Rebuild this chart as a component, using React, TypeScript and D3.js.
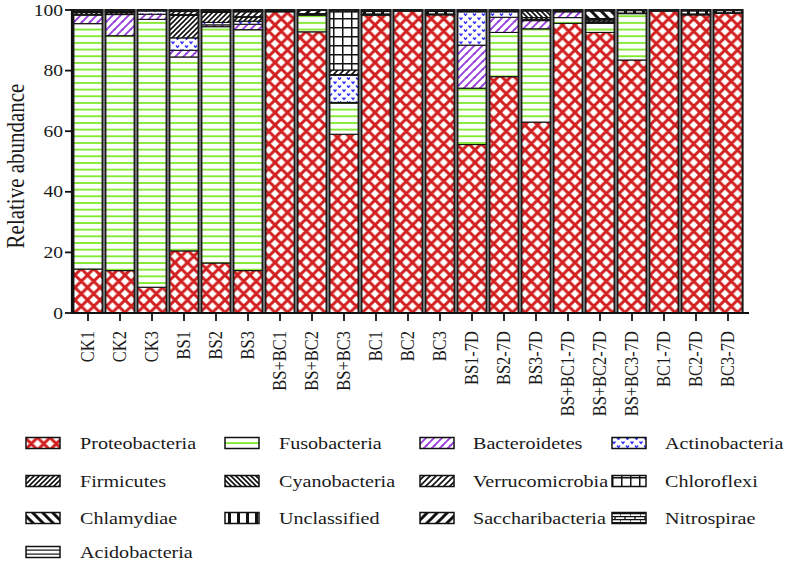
import React from 'react';
import * as d3 from 'd3';

const samples = ['CK1','CK2','CK3','BS1','BS2','BS3','BS+BC1','BS+BC2','BS+BC3','BC1','BC2','BC3','BS1-7D','BS2-7D','BS3-7D','BS+BC1-7D','BS+BC2-7D','BS+BC3-7D','BC1-7D','BC2-7D','BC3-7D'];

const phyla = ['Proteobacteria','Fusobacteria','Bacteroidetes','Actinobacteria','Firmicutes','Cyanobacteria','Verrucomicrobia','Chloroflexi','Chlamydiae','Unclassified','Saccharibacteria','Nitrospirae','Acidobacteria'];

const proteobacteria = [14.5,14.0,8.5,20.5,16.5,14.0,99.4,92.8,59.0,98.3,99.6,98.4,55.6,78.0,63.0,95.6,92.6,83.5,99.6,98.4,98.9];
const fusobacteria = [81.0,77.5,88.4,64.0,78.0,79.5,0.2,5.5,10.3,0.2,0.2,0.2,18.6,14.6,30.8,1.9,3.0,15.3,0.2,0.2,0.2];
const bacteroidetes = [2.8,7.0,1.7,2.2,0.6,1.8,0.05,0.2,0.2,0,0,0,14.2,5.0,2.7,1.9,0.3,0.1,0,0,0];
const actinobacteria = [0.3,0.2,1.1,4.1,0.8,1.0,0.05,0.1,9.0,0,0,0,11.0,1.8,0.4,0.2,0.2,0,0,0,0];
const firmicutes = [0.6,0.5,0.1,7.4,3.3,1.3,0.1,0.1,0.2,0.2,0,0.1,0.2,0.2,0.6,0.2,0.6,0.1,0,0.1,0];
const cyanobacteria = [0.2,0.2,0.05,0.3,0.2,0.2,0,0,0,0,0,0,0.1,0.1,2.2,0,0.3,0,0,0,0];
const verrucomicrobia = [0.1,0.1,0.05,1.0,0.2,1.6,0,0,1.5,0,0,0,0.1,0.1,0.1,0,0.2,0,0,0,0];
const chloroflexi = [0.1,0.1,0,0.1,0.1,0.1,0,0,19.2,0,0,0,0,0,0,0,0,0,0,0,0];
const chlamydiae = [0.1,0.1,0,0.1,0.1,0,0,0,0,0,0,0,0,0,0,0,2.5,0,0,0,0];
const unclassified = [0.2,0.2,0.1,0.2,0.1,0.3,0.2,0.1,0.4,0.8,0.2,0.8,0.2,0.2,0.2,0.2,0.3,0.8,0.2,1.0,0.7];
const saccharibacteria = [0.05,0.05,0,0.05,0.1,0.1,0,1.2,0.1,0,0,0,0,0,0,0,0,0,0,0,0];
const nitrospirae = [0.05,0.05,0,0.05,0,0.1,0,0,0.1,0.3,0,0.3,0,0,0,0,0,0.2,0,0.2,0.2];
const acidobacteria = [0,0,0,0,0,0,0,0,0,0.2,0,0.2,0,0,0,0,0,0,0,0.1,0];

const seriesValues = [proteobacteria,fusobacteria,bacteroidetes,actinobacteria,firmicutes,cyanobacteria,verrucomicrobia,chloroflexi,chlamydiae,unclassified,saccharibacteria,nitrospirae,acidobacteria];

const yTicks = [0,20,40,60,80,100];

const FONT = 'Liberation Serif, Times New Roman, serif';
const SX = 1.15;
const tstyle = { fontFamily: FONT };

function Patterns() {
  const red = '#d21f1f';
  const P = 12.5;
  const h = P / 2;
  return (
    <defs>
      <pattern id="pat0" width={P} height={P} patternUnits="userSpaceOnUse">
        <rect width={P} height={P} fill="#fff" />
        <path d={`M${-h},${-h}L${P+h},${P+h}M${-h},${h}L${h},${P+h}M${h},${-h}L${P+h},${h}M${P+h},${-h}L${-h},${P+h}M${h},${-h}L${-h},${h}M${P+h},${h}L${h},${P+h}`} stroke={red} strokeWidth={2.9} />
      </pattern>
      <pattern id="pat1" width={8} height={6.67} patternUnits="userSpaceOnUse">
        <rect width={8} height={6.67} fill="#fff" />
        <rect y={2} width={8} height={1.8} fill="#7ee82a" />
      </pattern>
      <pattern id="pat2" width={8} height={8} patternUnits="userSpaceOnUse">
        <rect width={8} height={8} fill="#fff" />
        <path d="M-2,10L10,-2M-2,2L2,-2M6,10L10,6" stroke="#9a3ede" strokeWidth={1.8} />
        <path d="M1,5.5L4,5.5" stroke="#9a3ede" strokeWidth={1.2} />
      </pattern>
      <pattern id="pat3" width={9} height={8} patternUnits="userSpaceOnUse">
        <rect width={9} height={8} fill="#fff" />
        <path d="M0.5,1.5L2,3.5L3.5,1.5M5,5.5L6.5,7.5L8,5.5" stroke="#2f2fff" strokeWidth={1.3} fill="none" />
      </pattern>
      <pattern id="pat4" width={5} height={5} patternUnits="userSpaceOnUse">
        <rect width={5} height={5} fill="#fff" />
        <path d="M-1,6L6,-1M-1,1L1,-1M4,6L6,4" stroke="#111" strokeWidth={1.6} />
      </pattern>
      <pattern id="pat5" width={5} height={5} patternUnits="userSpaceOnUse">
        <rect width={5} height={5} fill="#fff" />
        <path d="M-1,-1L6,6M4,-1L6,1M-1,4L1,6" stroke="#111" strokeWidth={1.6} />
      </pattern>
      <pattern id="pat6" width={6} height={6} patternUnits="userSpaceOnUse">
        <rect width={6} height={6} fill="#fff" />
        <path d="M-1,7L7,-1M-1,1L1,-1M5,7L7,5" stroke="#111" strokeWidth={1.6} />
      </pattern>
      <pattern id="pat7" width={9} height={9} patternUnits="userSpaceOnUse">
        <rect width={9} height={9} fill="#fff" />
        <path d="M0,0.75H9M0.75,0V9" stroke="#111" strokeWidth={1.5} />
      </pattern>
      <pattern id="pat8" width={10} height={10} patternUnits="userSpaceOnUse">
        <rect width={10} height={10} fill="#fff" />
        <path d="M-2,-2L12,12M8,-2L12,2M-2,8L2,12" stroke="#111" strokeWidth={3} />
      </pattern>
      <pattern id="pat9" width={9} height={9} patternUnits="userSpaceOnUse">
        <rect width={9} height={9} fill="#fff" />
        <rect x={3} width={3} height={9} fill="#111" />
      </pattern>
      <pattern id="pat10" width={10} height={10} patternUnits="userSpaceOnUse">
        <rect width={10} height={10} fill="#fff" />
        <path d="M-2,12L12,-2M-2,2L2,-2M8,12L12,8" stroke="#111" strokeWidth={3} />
      </pattern>
      <pattern id="pat11" width={10} height={6} patternUnits="userSpaceOnUse">
        <rect width={10} height={6} fill="#fff" />
        <path d="M0,0.6H10M0,3.6H10M5,0V3M0,3V6" stroke="#111" strokeWidth={1.3} />
      </pattern>
      <pattern id="pat12" width={8} height={4} patternUnits="userSpaceOnUse">
        <rect width={8} height={4} fill="#fff" />
        <rect y={1.5} width={8} height={1.2} fill="#111" />
      </pattern>
    </defs>
  );
}

export default function App() {
  const width = 791;
  const height = 561;
  const x0 = 72;
  const x1 = 744;
  const y = d3.scaleLinear().domain([0, 100]).range([313, 10]);
  const x = d3.scaleBand<string>().domain(samples).range([x0, x1]).paddingInner(0.09).paddingOuter(0.045);

  const rows = samples.map((s, i) => {
    const r: Record<string, number | string> = { sample: s };
    phyla.forEach((p, k) => { r[p] = seriesValues[k][i]; });
    return r;
  });
  const stack = d3.stack<any>().keys(phyla);
  const stacked = stack(rows as any);

  const legendCols = [{ sw: 26, tx: 80 }, { sw: 225, tx: 279 }, { sw: 420, tx: 473 }, { sw: 612, tx: 665 }];
  const legendRows = [443, 481, 518, 552];

  const bw = x.bandwidth();

  return (
    <svg width={width} height={height} style={{ position: 'absolute', left: 0, top: 0, background: '#fff', fontFamily: FONT }}>
      <Patterns />
      <rect width={width} height={height} fill="#fff" />
      {stacked.map((layer, k) => (
        <g key={phyla[k]}>
          {layer.map((d, i) => {
            const v = d[1] - d[0];
            if (v <= 0) return null;
            const yt = y(d[1]);
            const yb = y(d[0]);
            return (
              <rect key={i} x={x(samples[i])!} y={yt} width={bw} height={yb - yt}
                fill={`url(#pat${k})`} stroke="#111" strokeWidth={1.1} />
            );
          })}
        </g>
      ))}
      {samples.map((s) => {
        const total = d3.sum(seriesValues, (arr) => arr[samples.indexOf(s)]);
        return (
          <rect key={'o' + s} x={x(s)!} y={y(total)} width={bw} height={y(0) - y(total)}
            fill="none" stroke="#1a1a1a" strokeWidth={2} />
        );
      })}
      <line x1={72} x2={72} y1={y(100) - 1} y2={y(0) + 1} stroke="#111" strokeWidth={2.2} />
      {yTicks.map((t) => (
        <g key={t}>
          <line x1={65} x2={72} y1={y(t)} y2={y(t)} stroke="#111" strokeWidth={1.8} />
          <text style={tstyle} transform={`translate(63,${y(t)}) scale(${SX},1)`} textAnchor="end" dominantBaseline="central"
            fontSize={17} fill="#1a1a1a">{t}</text>
        </g>
      ))}
      <text style={tstyle} transform={`translate(16,166) scale(${SX},1) rotate(-90)`} textAnchor="middle" dominantBaseline="central"
        fontSize={21} fill="#1a1a1a">Relative abundance</text>
      <line x1={71} x2={749} y1={y(0)} y2={y(0)} stroke="#111" strokeWidth={2.2} />
      {samples.map((s) => {
        const cx = x(s)! + bw / 2;
        return (
          <g key={'t' + s}>
            <line x1={cx} x2={cx} y1={y(0)} y2={y(0) + 8} stroke="#111" strokeWidth={1.8} />
            <text style={tstyle} transform={`translate(${cx},${y(0) + 18}) scale(${SX},1) rotate(-90)`} textAnchor="end"
              dominantBaseline="central" fontSize={16.5} fill="#1a1a1a">{s}</text>
          </g>
        );
      })}
      {phyla.map((p, k) => {
        const col = legendCols[k % 4];
        const ry = legendRows[Math.floor(k / 4)];
        return (
          <g key={'l' + p}>
            <rect x={col.sw} y={ry - 5.5} width={34} height={11} fill={`url(#pat${k})`} stroke="#111" strokeWidth={1.5} />
            <text style={tstyle} transform={`translate(${col.tx},${ry}) scale(${SX},1)`} dominantBaseline="central" fontSize={17.5}
              fill="#1a1a1a">{p}</text>
          </g>
        );
      })}
    </svg>
  );
}
